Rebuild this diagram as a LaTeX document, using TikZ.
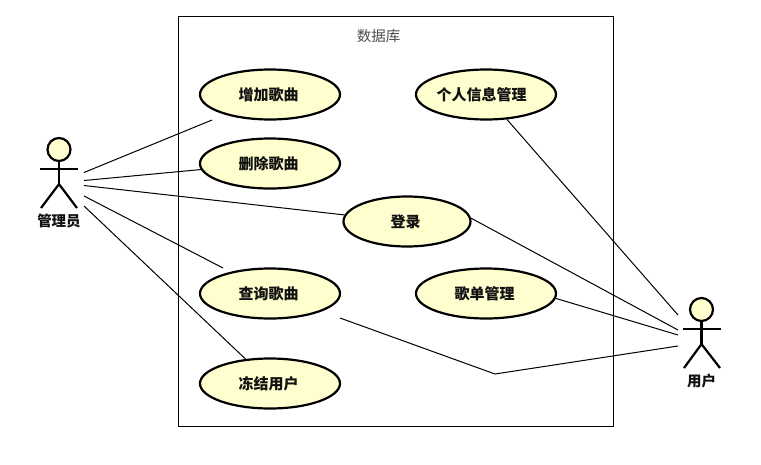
\documentclass[tikz,border=0pt]{standalone}
\usepackage{fontspec}
\setmainfont{Noto Sans CJK SC}
\usepackage{xcolor}
\usetikzlibrary{shapes.geometric, positioning}
\definecolor{usefill}{HTML}{FEFECE}
\definecolor{darktext}{HTML}{111111}

\begin{document}
\begin{tikzpicture}[
    x=1pt, y=-1pt,
    usecase/.style={ellipse, draw=black, fill=usefill, line width=2.2pt,
                    minimum width=#1, minimum height=50pt, inner sep=0pt,
                    font=\fontsize{15}{17}\selectfont\bfseries, text=darktext,
                    execute at end node={\kern3pt}},
    usecase/.default=140pt,
    head/.style={circle, draw=black, fill=usefill, line width=2.2pt,
                 minimum size=23pt, inner sep=0pt},
    limb/.style={draw=black, line width=2.2pt},
    link/.style={draw=black, line width=1pt},
    actorname/.style={font=\fontsize{14.5}{16}\selectfont\bfseries, text=darktext},
    frametitle/.style={font=\fontsize{14.5}{16}\selectfont, text=darktext!75}
]
\useasboundingbox (0,0) rectangle (761,464);

% System frame
\node[draw=black, line width=0.9pt, minimum width=435pt, minimum height=410pt,
      inner sep=0pt] (sysframe) at (396,221) {};
\node[frametitle] (systitle) at (378.5,36) {数据库};

% Use cases
\node[usecase] (addsong) at (270,94.5) {增加歌曲};
\node[usecase] (delsong) at (270,163.5) {删除歌曲};
\node[usecase] (infomgr) at (486,94.5) {个人信息管理\kern6pt};
\node[usecase=127pt] (login) at (407,221.5) {登录};
\node[usecase] (query) at (270,293.5) {查询歌曲};
\node[usecase] (playlist) at (486,293.5) {歌单管理};
\node[usecase] (freeze) at (270,383.5) {冻结用户};

% Admin actor
\node[head] (adminhead) at (59,149.5) {};
\draw[limb] (adminhead.south) -- ++(0,22) coordinate (adminhip);
\draw[limb] (40,169) coordinate (adminarml) -- (78,169) coordinate (adminarmr);
\draw[limb] (41,208) coordinate (adminfootl) -- (adminhip) -- (77,208) coordinate (adminfootr);
\node[actorname, below=2pt of adminhip |- adminfootl] (adminname) {管理员};

% User actor
\node[head] (userhead) at (701.5,309.5) {};
\draw[limb] (userhead.south) -- ++(0,22) coordinate (userhip);
\draw[limb] (683,329) coordinate (userarml) -- (720.5,329) coordinate (userarmr);
\draw[limb] (684,368) coordinate (userfootl) -- (userhip) -- (720,368) coordinate (userfootr);
\node[actorname, below=2pt of userhip |- userfootl] (username) {用户};

% Free ends next to the actors
\coordinate (a1) at (84,172.5);
\coordinate (a2) at (84,180.5);
\coordinate (a3) at (84,185.5);
\coordinate (a4) at (84,196);
\coordinate (a5) at (84,206);
\coordinate (u1) at (678,315);
\coordinate (u2) at (678,330);
\coordinate (u3) at (678,335);
\coordinate (u4) at (678,346);

% Free ends next to the use cases
\coordinate (addend) at (212,120);
\coordinate (queryadm) at (223,268);
\coordinate (queryusr) at (340,318);
\coordinate (querybend) at (495,374);

% Admin links
\draw[link] (a1) -- (addend);
\draw[link] (a2) -- (delsong.185);
\draw[link] (a3) -- (login.174);
\draw[link] (a4) -- (queryadm);
\draw[link] (a5) -- (freeze.135);

% User links
\draw[link] (u1) -- (infomgr.-50);
\draw[link] (u2) -- (login.3);
\draw[link] (u3) -- (playlist.-4);
\draw[link] (u4) -- (querybend) -- (queryusr);

\end{tikzpicture}
\end{document}
